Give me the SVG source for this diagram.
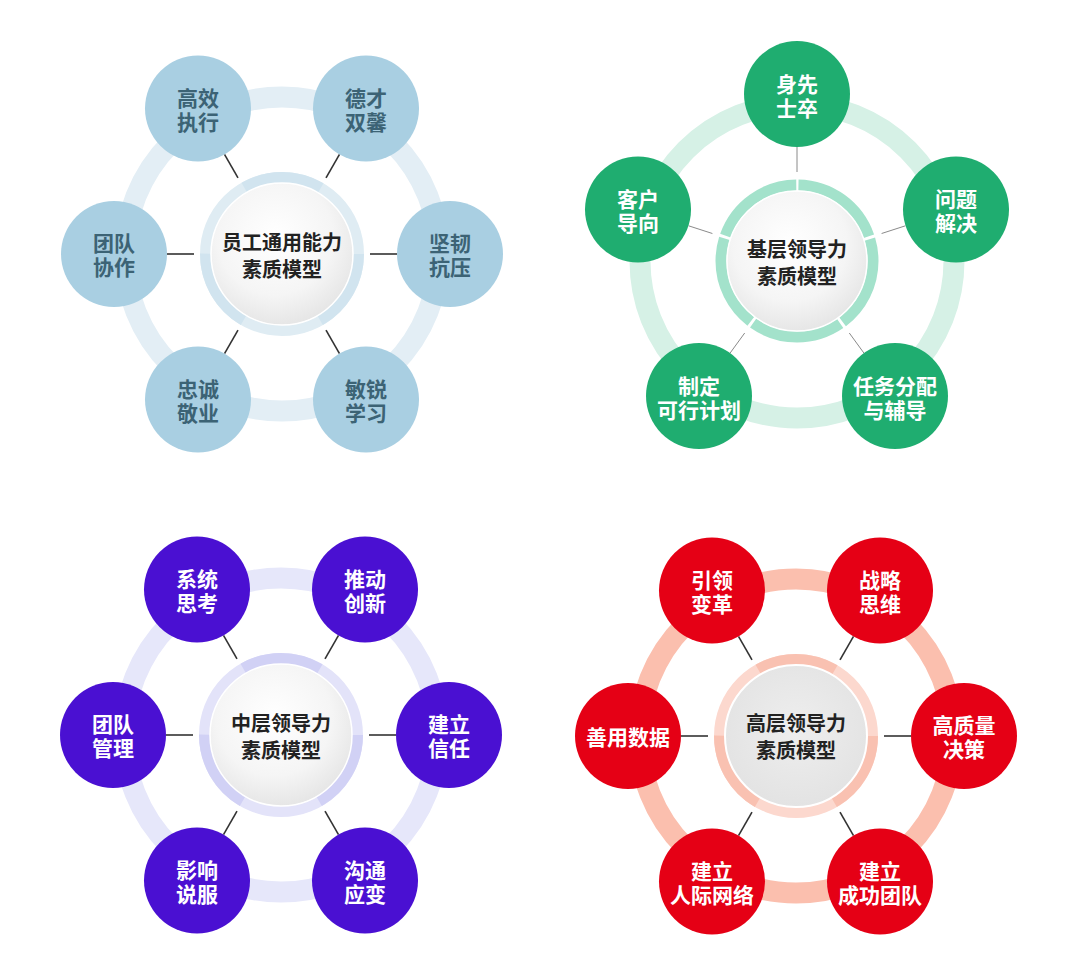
<svg xmlns="http://www.w3.org/2000/svg" width="1080" height="978" viewBox="0 0 1080 978">
<style>
text{font-family:"Noto Sans CJK SC","Noto Sans",sans-serif;font-weight:700;text-anchor:middle;dominant-baseline:central}
.nt{font-size:21px;fill:#fff}
.q1t{font-size:21px;fill:#3c6375}
.ct{font-size:20px;fill:#222}
.q1n{fill:#a9cfe2}.q2n{fill:#1fad70}.q3n{fill:#4a10d2}.q4n{fill:#e50015}
.ring{fill:none;stroke-width:21}
.iring{fill:none;stroke-width:11}
.c1{stroke:#333;stroke-width:1.6}
.c2{stroke:#8a8a8a;stroke-width:1}
</style>
<defs>
<radialGradient id="cg" cx="45%" cy="38%" r="68%">
<stop offset="0" stop-color="#ffffff"/>
<stop offset="0.6" stop-color="#f5f5f5"/>
<stop offset="1" stop-color="#e2e2e2"/>
</radialGradient>
<radialGradient id="cg4" cx="50%" cy="45%" r="60%">
<stop offset="0" stop-color="#eeeeee"/>
<stop offset="1" stop-color="#e2e2e2"/>
</radialGradient>
</defs>
<rect width="1080" height="978" fill="#fff"/>

<!-- Q1 -->
<g id="q1">
<circle class="ring" cx="282" cy="254" r="157" stroke="#e3eef5"/>
<circle class="iring" cx="282" cy="254" r="76.5" stroke="#dfecf3"/>
<circle class="iring" cx="282" cy="254" r="76.5" stroke="#d1e4ef" stroke-dasharray="80.11 80.11"/>
<circle cx="282" cy="254" r="71" fill="url(#cg)" stroke="#fff" stroke-width="1.5"/>
<text class="ct" x="282" y="241">员工通用能力<tspan x="282" dy="27">素质模型</tspan></text>
</g>
<g id="q1-connectors">
<line class="c1" x1="238" y1="177.8" x2="224.5" y2="154.4"/>
<line class="c1" x1="326" y1="177.8" x2="339.5" y2="154.4"/>
<line class="c1" x1="370" y1="254" x2="397" y2="254"/>
<line class="c1" x1="194" y1="254" x2="167" y2="254"/>
<line class="c1" x1="238" y1="330.2" x2="224.5" y2="353.6"/>
<line class="c1" x1="326" y1="330.2" x2="339.5" y2="353.6"/>
</g>
<g id="q1-n1"><circle class="q1n" cx="198" cy="108.5" r="53"/><text class="q1t" x="198" y="97">高效<tspan x="198" dy="24">执行</tspan></text></g>
<g id="q1-n2"><circle class="q1n" cx="366" cy="108.5" r="53"/><text class="q1t" x="366" y="97">德才<tspan x="366" dy="24">双馨</tspan></text></g>
<g id="q1-n3"><circle class="q1n" cx="450" cy="254" r="53"/><text class="q1t" x="450" y="242">坚韧<tspan x="450" dy="24">抗压</tspan></text></g>
<g id="q1-n4"><circle class="q1n" cx="114" cy="254" r="53"/><text class="q1t" x="114" y="242">团队<tspan x="114" dy="24">协作</tspan></text></g>
<g id="q1-n5"><circle class="q1n" cx="198" cy="399.5" r="53"/><text class="q1t" x="198" y="388">忠诚<tspan x="198" dy="24">敬业</tspan></text></g>
<g id="q1-n6"><circle class="q1n" cx="366" cy="399.5" r="53"/><text class="q1t" x="366" y="388">敏锐<tspan x="366" dy="24">学习</tspan></text></g>

<!-- Q2 -->
<g id="q2">
<circle class="ring" cx="797" cy="261" r="157" stroke="#d6f1e6"/>
<circle class="iring" cx="797" cy="261" r="76" stroke="#a3e2cb" stroke-dasharray="92.5 3" stroke-dashoffset="94" transform="rotate(-90 797 261)"/>
<circle cx="797" cy="261" r="70" fill="url(#cg)" stroke="#fff" stroke-width="1.5"/>
<text class="ct" x="797" y="248">基层领导力<tspan x="797" dy="27">素质模型</tspan></text>
</g>
<g id="q2-connectors">
<line class="c2" x1="797" y1="172" x2="797" y2="147"/>
<line class="c2" x1="881.6" y1="233.5" x2="905.4" y2="225.8"/>
<line class="c2" x1="712.4" y1="233.5" x2="688.6" y2="225.8"/>
<line class="c2" x1="849.3" y1="333" x2="864" y2="353.2"/>
<line class="c2" x1="744.7" y1="333" x2="730" y2="353.2"/>
</g>
<g id="q2-n1"><circle class="q2n" cx="797" cy="94" r="53"/><text class="nt" x="797" y="83">身先<tspan x="797" dy="24">士卒</tspan></text></g>
<g id="q2-n2"><circle class="q2n" cx="956" cy="209.5" r="53"/><text class="nt" x="956" y="198">问题<tspan x="956" dy="24">解决</tspan></text></g>
<g id="q2-n3"><circle class="q2n" cx="638" cy="209.5" r="53"/><text class="nt" x="638" y="198">客户<tspan x="638" dy="24">导向</tspan></text></g>
<g id="q2-n4"><circle class="q2n" cx="895" cy="396" r="53"/><text class="nt" x="895" y="385">任务分配<tspan x="895" dy="24">与辅导</tspan></text></g>
<g id="q2-n5"><circle class="q2n" cx="699" cy="396" r="53"/><text class="nt" x="699" y="385">制定<tspan x="699" dy="24">可行计划</tspan></text></g>

<!-- Q3 -->
<g id="q3">
<circle class="ring" cx="281" cy="735" r="157" stroke="#e6e7fa"/>
<circle class="iring" cx="281" cy="735" r="76.5" stroke="#e3e3f9"/>
<circle class="iring" cx="281" cy="735" r="76.5" stroke="#d1d1f5" stroke-dasharray="80.11 80.11"/>
<circle cx="281" cy="735" r="71" fill="url(#cg)" stroke="#fff" stroke-width="1.5"/>
<text class="ct" x="281" y="722">中层领导力<tspan x="281" dy="27">素质模型</tspan></text>
</g>
<g id="q3-connectors">
<line class="c1" x1="237" y1="658.8" x2="223.5" y2="635.4"/>
<line class="c1" x1="325" y1="658.8" x2="338.5" y2="635.4"/>
<line class="c1" x1="369" y1="735" x2="396" y2="735"/>
<line class="c1" x1="193" y1="735" x2="166" y2="735"/>
<line class="c1" x1="237" y1="811.2" x2="223.5" y2="834.6"/>
<line class="c1" x1="325" y1="811.2" x2="338.5" y2="834.6"/>
</g>
<g id="q3-n1"><circle class="q3n" cx="197" cy="589.5" r="53"/><text class="nt" x="197" y="578">系统<tspan x="197" dy="24">思考</tspan></text></g>
<g id="q3-n2"><circle class="q3n" cx="365" cy="589.5" r="53"/><text class="nt" x="365" y="578">推动<tspan x="365" dy="24">创新</tspan></text></g>
<g id="q3-n3"><circle class="q3n" cx="449" cy="735" r="53"/><text class="nt" x="449" y="723">建立<tspan x="449" dy="24">信任</tspan></text></g>
<g id="q3-n4"><circle class="q3n" cx="113" cy="735" r="53"/><text class="nt" x="113" y="723">团队<tspan x="113" dy="24">管理</tspan></text></g>
<g id="q3-n5"><circle class="q3n" cx="197" cy="880.5" r="53"/><text class="nt" x="197" y="869">影响<tspan x="197" dy="24">说服</tspan></text></g>
<g id="q3-n6"><circle class="q3n" cx="365" cy="880.5" r="53"/><text class="nt" x="365" y="869">沟通<tspan x="365" dy="24">应变</tspan></text></g>

<!-- Q4 -->
<g id="q4">
<circle class="ring" cx="796" cy="736" r="157" stroke="#fbbfae"/>
<circle class="iring" cx="796" cy="736" r="76.5" stroke="#fcd8ce"/>
<circle class="iring" cx="796" cy="736" r="76.5" stroke="#f9c1b1" stroke-dasharray="80.11 80.11"/>
<circle cx="796" cy="736" r="71" fill="url(#cg4)" stroke="#fff" stroke-width="2"/>
<text class="ct" x="796" y="722">高层领导力<tspan x="796" dy="27">素质模型</tspan></text>
</g>
<g id="q4-connectors">
<line class="c1" x1="752" y1="659.8" x2="738.5" y2="636.4"/>
<line class="c1" x1="840" y1="659.8" x2="853.5" y2="636.4"/>
<line class="c1" x1="884" y1="736" x2="911" y2="736"/>
<line class="c1" x1="708" y1="736" x2="681" y2="736"/>
<line class="c1" x1="752" y1="812.2" x2="738.5" y2="835.6"/>
<line class="c1" x1="840" y1="812.2" x2="853.5" y2="835.6"/>
</g>
<g id="q4-n1"><circle class="q4n" cx="712" cy="590.5" r="53"/><text class="nt" x="712" y="579">引领<tspan x="712" dy="24">变革</tspan></text></g>
<g id="q4-n2"><circle class="q4n" cx="880" cy="590.5" r="53"/><text class="nt" x="880" y="579">战略<tspan x="880" dy="24">思维</tspan></text></g>
<g id="q4-n3"><circle class="q4n" cx="964" cy="736" r="53"/><text class="nt" x="964" y="724">高质量<tspan x="964" dy="24">决策</tspan></text></g>
<g id="q4-n4"><circle class="q4n" cx="628" cy="736" r="53"/><text class="nt" x="628" y="736">善用数据</text></g>
<g id="q4-n5"><circle class="q4n" cx="712" cy="881.5" r="53"/><text class="nt" x="712" y="870">建立<tspan x="712" dy="24">人际网络</tspan></text></g>
<g id="q4-n6"><circle class="q4n" cx="880" cy="881.5" r="53"/><text class="nt" x="880" y="870">建立<tspan x="880" dy="24">成功团队</tspan></text></g>
</svg>
